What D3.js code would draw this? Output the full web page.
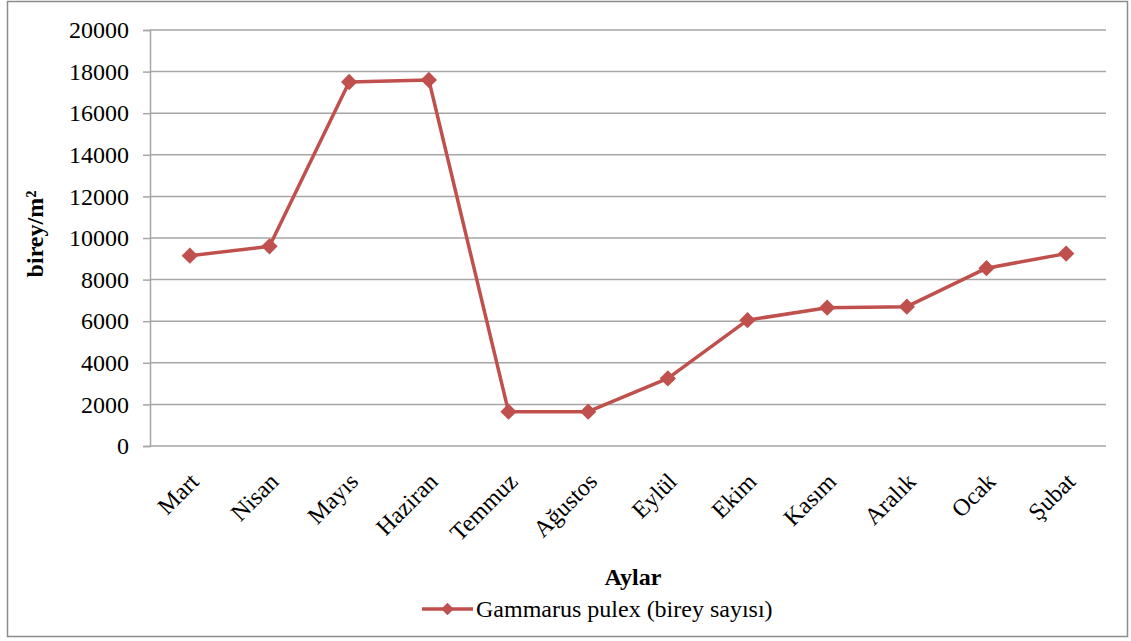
<!DOCTYPE html>
<html>
<head>
<meta charset="utf-8">
<script src="https://cdn.jsdelivr.net/npm/d3@7"></script>
<style>
  html, body { margin: 0; padding: 0; background: #fff; }
  svg { display: block; }
  svg text { font-family: 'Liberation Serif', 'Times New Roman', 'DejaVu Serif', serif !important; fill: #000; }
</style>
</head>
<body>
<svg id="chart" width="1131" height="641"></svg>
<script>
// Monthly Gammarus pulex density (individuals per m²)
const months = ["Mart", "Nisan", "Mayıs", "Haziran", "Temmuz", "Ağustos",
                "Eylül", "Ekim", "Kasım", "Aralık", "Ocak", "Şubat"];
const density = [9150, 9600, 17500, 17600, 1650, 1650, 3250, 6050, 6650, 6700, 8550, 9250];
const yTicks = [0, 2000, 4000, 6000, 8000, 10000, 12000, 14000, 16000, 18000, 20000];
const seriesName = "Gammarus pulex (birey sayısı)";
const xTitle = "Aylar";
const yTitle = "birey/m²";

const svg = d3.select("#chart");
const plot = { left: 150, right: 1106, top: 30, bottom: 446 };
const red = "#C0504D";
const gridColor = "#A6A6A6";
const fontSize = 24;

// outer frame
svg.append("rect")
  .attr("x", 7.5).attr("y", 1.5)
  .attr("width", 1120).attr("height", 635)
  .attr("fill", "#fff").attr("stroke", "#8c8c8c").attr("stroke-width", 1.5);

const x = d3.scalePoint().domain(months).range([plot.left, plot.right]).padding(0.5);
const y = d3.scaleLinear().domain([0, 20000]).range([plot.bottom, plot.top]);

// horizontal gridlines
svg.append("g").selectAll("line").data(yTicks).join("line")
  .attr("x1", plot.left).attr("x2", plot.right)
  .attr("y1", d => y(d)).attr("y2", d => y(d))
  .attr("stroke", gridColor).attr("stroke-width", 1.5);

// y axis
const yAxis = svg.append("g")
  .attr("transform", `translate(${plot.left},0)`)
  .call(d3.axisLeft(y).tickValues(yTicks).tickSize(7).tickPadding(14).tickFormat(d3.format("d")));
yAxis.attr("font-family", null).attr("font-size", fontSize);
yAxis.select(".domain").attr("stroke", gridColor).attr("stroke-width", 1.5);
yAxis.selectAll(".tick line").attr("stroke", gridColor).attr("stroke-width", 1.5);
yAxis.selectAll(".tick text").attr("fill", "#000");

// x category labels, rotated
const xAxis = svg.append("g")
  .attr("transform", `translate(0,${plot.bottom})`)
  .call(d3.axisBottom(x).tickSize(0).tickPadding(0));
xAxis.attr("font-family", null).attr("font-size", fontSize);
xAxis.select(".domain").remove();
xAxis.selectAll(".tick text")
  .attr("fill", "#000")
  .attr("text-anchor", "end")
  .attr("dy", 0)
  .attr("transform", "translate(10,37) rotate(-45)");

// axis titles
svg.append("text")
  .attr("x", 633).attr("y", 585)
  .attr("text-anchor", "middle").attr("font-weight", "bold").attr("font-size", fontSize)
  .text(xTitle);
svg.append("text")
  .attr("transform", `translate(43,${(plot.top + plot.bottom) / 2 - 4}) rotate(-90)`)
  .attr("text-anchor", "middle").attr("font-weight", "bold").attr("font-size", fontSize)
  .text(yTitle);

// series line
const line = d3.line().x((d, i) => x(months[i])).y(d => y(d));
svg.append("path")
  .datum(density)
  .attr("d", line)
  .attr("fill", "none").attr("stroke", red).attr("stroke-width", 3.5)
  .attr("stroke-linejoin", "round");

// diamond markers
const diamond = d3.symbol().type(d3.symbolDiamond2).size(170);
svg.append("g").selectAll("path").data(density).join("path")
  .attr("d", diamond)
  .attr("transform", (d, i) => `translate(${x(months[i])},${y(d)})`)
  .attr("fill", red);

// legend
const lg = svg.append("g").attr("transform", "translate(422,609)");
lg.append("line").attr("x1", 0).attr("x2", 51).attr("y1", 0).attr("y2", 0)
  .attr("stroke", red).attr("stroke-width", 3.5);
lg.append("path").attr("d", d3.symbol().type(d3.symbolDiamond2).size(100))
  .attr("transform", "translate(25.5,0)").attr("fill", red);
lg.append("text").attr("x", 54).attr("y", 0).attr("dy", "0.33em")
  .attr("font-size", fontSize).text(seriesName);
</script>
</body>
</html>
